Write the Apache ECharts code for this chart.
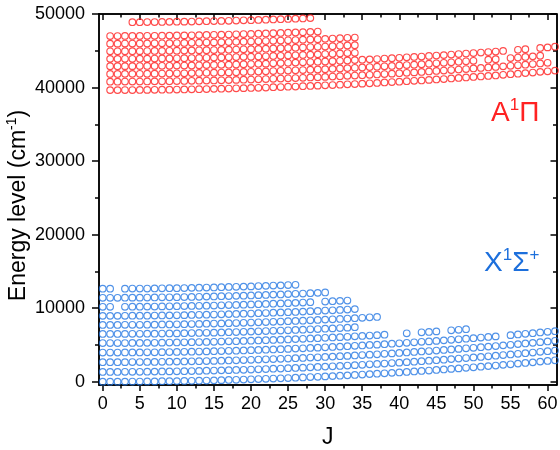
<!DOCTYPE html>
<html><head><meta charset="utf-8">
<script src="https://cdn.jsdelivr.net/npm/echarts@6/dist/echarts.min.js"></script>
<style>html,body{margin:0;padding:0;background:#fff}#c{width:560px;height:450px}</style>
</head><body><div id="c"></div>
<script>
// Tick positions / labels
const xMajorTicks = [0,5,10,15,20,25,30,35,40,45,50,55,60];
const xMinorTicks = [2.5,7.5,12.5,17.5,22.5,27.5,32.5,37.5,42.5,47.5,52.5,57.5];
const yMajorTicks = [0,10000,20000,30000,40000,50000];
const yMinorTicks = [5000,15000,25000,35000,45000];

// X1Sigma+ levels: energy (cm-1) indexed by J (null = level not shown)
const X_v0 = [0,0,0,10,20,20,30,40,60,70,
 80,100,120,140,160,180,210,240,260,290,
 320,360,390,430,460,500,540,580,630,670,
 720,760,810,860,920,970,1030,1080,1140,1200,
 1260,1330,1390,1460,1520,1590,1660,1740,1810,1890,
 1960,2040,2120,2200,2290,2370,2460,2550,2630,2730,
 2820,2910];
const X_v1 = [1330,1330,1330,1340,1350,1350,1360,1370,1390,1400,
 1410,1430,1450,1470,1490,1510,1540,1570,1590,1620,
 1650,1690,1720,1760,1790,1830,1870,1910,1960,2000,
 2050,2090,2140,2190,2250,2300,2360,2410,2470,2530,
 2590,2660,2720,2790,2850,2920,2990,3070,3140,3220,
 3290,3370,3450,3530,3620,3700,3790,3880,3960,4060,
 4150,4240];
const X_v2 = [2650,2650,2650,2660,2670,2670,2680,2690,2710,2720,
 2730,2750,2770,2790,2810,2830,2860,2890,2910,2940,
 2970,3010,3040,3080,3110,3150,3190,3230,3280,3320,
 3370,3410,3460,3510,3570,3620,3680,3730,3790,3850,
 3910,3980,4040,4110,4170,4240,4310,4390,4460,4540,
 4610,4690,4770,4850,4940,5020,5110,5200,5280,5380,
 5470,5560];
const X_v3 = [3960,3960,3960,3970,3980,3980,3990,4000,4020,4030,
 4040,4060,4080,4100,4120,4140,4170,4200,4220,4250,
 4280,4320,4350,4390,4420,4460,4500,4540,4590,4630,
 4680,4720,4770,4820,4880,4930,4990,5040,5100,5160,
 5220,5290,5350,5420,5480,5550,5620,5700,5770,5850,
 5920,6000,6080,6160,null,6330,6420,6510,6590,6690,
 6780,6870];
const X_v4 = [5250,5250,5250,5260,5270,5270,5280,5290,5310,5320,
 5330,5350,5370,5390,5410,5430,5460,5490,5510,5540,
 5570,5610,5640,5680,5710,5750,5790,5830,5880,5920,
 5970,6010,6060,6110,6170,6220,6280,6330,6390,null,
 null,6580,null,6710,6770,6840,null,6990,7060,7140];
const X_v5 = [6490,6490,6490,6500,6510,6510,6520,6530,6550,6560,
 6570,6590,6610,6630,6650,6670,6700,6730,6750,6780,
 6810,6850,6880,6920,6950,6990,7030,7070,7120,7160,
 7210,7250,7300,7350,7410];
const X_v6 = [7720,7720,7720,7730,7740,7740,7750,7760,7780,7790,
 7800,7820,7840,7860,7880,7900,7930,7960,7980,8010,
 8040,8080,8110,8150,8180,8220,8260,8300,8350,8390,
 8440,8480,8530,8580,8640,8690,8750,8800];
const X_v7 = [8950,8950,8950,8960,8970,8970,8980,8990,9010,9020,
 9030,9050,9070,9090,9110,9130,9160,9190,9210,9240,
 9270,9310,9340,9380,9410,9450,9490,9530,9580,9620,
 9670,9710,9760,9810,9870];
const X_v8 = [10180,10180,null,10190,10200,10200,10210,10220,10240,10250,
 10260,10280,10300,10320,10340,10360,10390,10420,10440,10470,
 10500,10540,10570,10610,10640,10680,10720,10760,10810,null,
 10900,10940,10990,11040];
const X_v9 = [11410,11410,11410,11420,11430,11430,11440,11450,11470,11480,
 11490,11510,11530,11550,11570,11590,11620,11650,11670,11700,
 11730,11770,11800,11840,11870,11910,11950,11990,12040,12080,
 12130];
const X_v10 = [12640,12640,null,12650,12660,12660,12670,12680,12700,12710,
 12720,12740,12760,12780,12800,12820,12850,12880,12900,12930,
 12960,13000,13030,13070,13100,13140,13180];

// A1Pi levels: energy (cm-1) indexed by J
const A_v0 = [null,39650,39650,39660,39660,39670,39680,39690,39700,39710,
 39730,39740,39760,39780,39800,39820,39840,39860,39890,39920,
 39940,39970,40000,40040,40070,40110,40140,40180,40220,40260,
 40300,40340,40390,40440,40480,40530,40580,40630,40690,40740,
 40800,40860,40910,40970,41040,41100,41160,41230,41300,41370,
 41440,41510,41580,41650,41730,41810,41880,41960,42040,42130,
 42210,42300];
const A_v1 = [null,40800,40800,40810,40810,40820,40830,40840,40850,40860,
 40880,40890,40910,40930,40950,40970,40990,41010,41040,41070,
 41090,41120,41150,41190,41220,41260,41290,41330,41370,41410,
 41450,41490,41540,41590,41630,41680,41730,41780,41840,41890,
 41950,42010,42060,42120,42190,42250,42310,42380,42450,42520,
 42590,42660,42730,42800,42880,42960,43030,43110,43190,43280,
 43360];
const A_v2 = [null,41850,41850,41860,41860,41870,41880,41890,41900,41910,
 41930,41940,41960,41980,42000,42020,42040,42060,42090,42120,
 42140,42170,42200,42240,42270,42310,42340,42380,42420,42460,
 42500,42540,42590,42640,42680,42730,42780,42830,42890,42940,
 43000,43060,43110,43170,43240,43300,43360,43430,43500,43570,
 43640,null,43780,43850,null,44010,44080,44160,44240,44330];
const A_v3 = [null,42900,42900,42910,42910,42920,42930,42940,42950,42960,
 42980,42990,43010,43030,43050,43070,43090,43110,43140,43170,
 43190,43220,43250,43290,43320,43360,43390,43430,43470,43510,
 43550,43590,43640,43690,43730,43780,43830,43880,43940,43990,
 44050,44110,44160,44220,44290,44350,44410,44480,44550,44620,
 44690,44760,44830,44900,44980,null,45130,45210,null,45380,
 45460,45550];
const A_v4 = [null,43900,43900,43910,43910,43920,43930,43940,43950,43960,
 43980,43990,44010,44030,44050,44070,44090,44110,44140,44170,
 44190,44220,44250,44290,44320,44360,44390,44430,44470,44510,
 44550,44590,44640,44690,44730];
const A_v5 = [null,44930,44930,44940,44940,44950,44960,44970,44980,44990,
 45010,45020,45040,45060,45080,45100,45120,45140,45170,45200,
 45220,45250,45280,45320,45350,45390,45420,45460,45500,45540,
 45580,45620,45670,45720,45760];
const A_v6 = [null,45970,45970,45980,45980,45990,46000,46010,46020,46030,
 46050,46060,46080,46100,46120,46140,46160,46180,46210,46240,
 46260,46290,46320,46360,46390,46430,46460,46500,46540,46580,
 46620,46660,46710,46760,46800];
const A_v7 = [null,47000,47000,47010,47010,47020,47030,47040,47050,47060,
 47080,47090,47110,47130,47150,47170,47190,47210,47240,47270,
 47290,47320,47350,47390,47420,47460,47490,47530,47570,47610];
const A_v8 = [null,null,null,null,48880,48890,48900,48910,48920,48930,
 48950,48960,48980,49000,49020,49040,49060,49080,49110,49140,
 49160,49190,49220,49260,49290,49330,49360,49400,49440];

const xRows = [X_v0,X_v1,X_v2,X_v3,X_v4,X_v5,X_v6,X_v7,X_v8,X_v9,X_v10];
const aRows = [A_v0,A_v1,A_v2,A_v3,A_v4,A_v5,A_v6,A_v7,A_v8];

function toPoints(rows){
  const pts = [];
  rows.forEach(r => r.forEach((e, j) => { if (e !== null) pts.push([j, e]); }));
  return pts;
}

const FONT = 'Liberation Sans, Arial, Helvetica, sans-serif';
const BLUE = '#2477e2';
const RED = '#ff1e1e';
const AX = {color:'#000', width:1.5};
const plain = v => String(v);

const chart = echarts.init(document.getElementById('c'), null, {renderer:'canvas'});

function xAx(pos, ticks, len, inside, labels, extra){
  return Object.assign({
    type:'value', position:pos, min:-0.5, max:61.2,
    axisLine:{show:true, onZero:false, lineStyle:AX},
    axisTick:{show:true, customValues:ticks, length:len, inside:inside, lineStyle:AX},
    axisLabel:labels ? {show:true, customValues:ticks, formatter:plain, fontSize:18, color:'#000', fontFamily:FONT, margin:10} : {show:false},
    splitLine:{show:false}
  }, extra||{});
}
function yAx(pos, ticks, len, inside, labels, extra){
  return Object.assign({
    type:'value', position:pos, min:-450, max:50000,
    axisLine:{show:true, onZero:false, lineStyle:AX},
    axisTick:{show:true, customValues:ticks, length:len, inside:inside, lineStyle:AX},
    axisLabel:labels ? {show:true, customValues:ticks, formatter:plain, fontSize:18, color:'#000', fontFamily:FONT, margin:14} : {show:false},
    splitLine:{show:false}
  }, extra||{});
}

chart.setOption({
  animation:false,
  backgroundColor:'#fff',
  grid:{left:99, right:3.5, top:14, bottom:65, containLabel:false, outerBoundsMode:'none'},
  xAxis:[
    xAx('bottom', xMajorTicks, 6, false, true, {
      name:'J', nameLocation:'middle', nameGap:41, nameMoveOverlap:false,
      nameTextStyle:{fontSize:23, color:'#000', fontFamily:FONT}
    }),
    xAx('bottom', xMinorTicks, 3.5, false, false),
    xAx('top', xMajorTicks, 6, true, false),
    xAx('top', xMinorTicks, 3.5, true, false)
  ],
  yAxis:[
    yAx('left', yMajorTicks, 7, false, true, {
      name:'Energy level (cm{sup|-1})', nameLocation:'middle', nameGap:66, nameMoveOverlap:false,
      nameTextStyle:{fontSize:23, color:'#000', fontFamily:FONT, lineHeight:28, padding:[0,12,0,0],
        rich:{sup:{fontSize:14, color:'#000', fontFamily:FONT, verticalAlign:'top', lineHeight:14}}}
    }),
    yAx('left', yMinorTicks, 4, false, false),
    yAx('right', yMajorTicks, 6, true, false),
    yAx('right', yMinorTicks, 3.5, true, false)
  ],
  series:[
    {type:'scatter', xAxisIndex:0, yAxisIndex:0, symbol:'circle', symbolSize:6.6, silent:true,
     itemStyle:{color:'rgba(255,255,255,0)', borderColor:BLUE, borderWidth:1.15}, data:toPoints(xRows)},
    {type:'scatter', xAxisIndex:0, yAxisIndex:0, symbol:'circle', symbolSize:6.6, silent:true,
     itemStyle:{color:'rgba(255,255,255,0)', borderColor:RED, borderWidth:1.15}, data:toPoints(aRows)}
  ],
  graphic:[
    {type:'text', x:491, y:96.5, silent:true, style:{
      text:'{b|A}{s|1}{b|Π}', align:'left', verticalAlign:'top', fill:'#f22',
      rich:{b:{fontSize:28, lineHeight:34, fontFamily:FONT, fill:'#f22'},
            s:{fontSize:17, lineHeight:17, verticalAlign:'top', fontFamily:FONT, fill:'#f22'}}}},
    {type:'text', x:484, y:246.5, silent:true, style:{
      text:'{b|X}{s|1}{b|Σ}{s|+}', align:'left', verticalAlign:'top', fill:BLUE,
      rich:{b:{fontSize:28, lineHeight:34, fontFamily:FONT, fill:'#1c6fdc'},
            s:{fontSize:17, lineHeight:17, verticalAlign:'top', fontFamily:FONT, fill:'#1c6fdc'}}}}
  ]
});
</script>
</body></html>
